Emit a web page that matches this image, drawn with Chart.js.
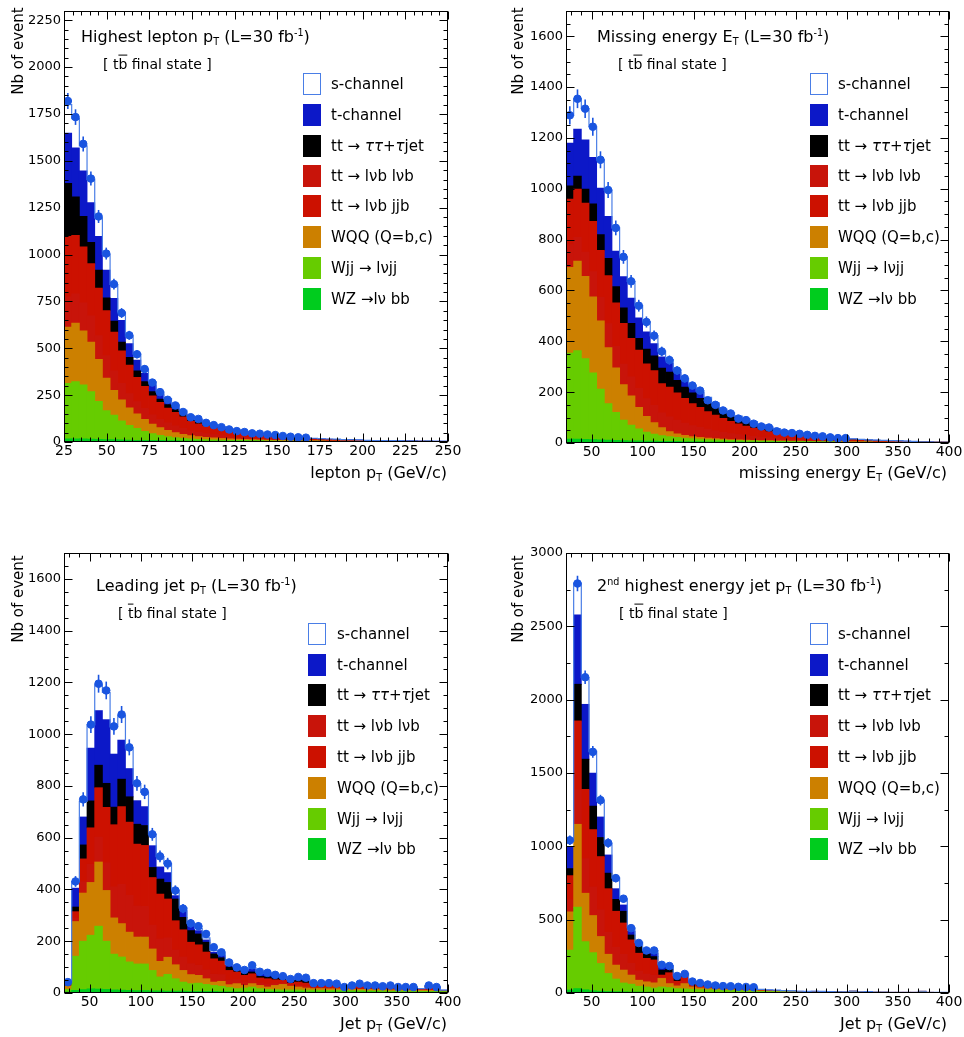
<!DOCTYPE html>
<html>
<head>
<meta charset="utf-8">
<script src="https://cdn.jsdelivr.net/npm/chart.js@4.4.1/dist/chart.umd.min.js"></script>
<style>
html,body{margin:0;padding:0;background:#fff;}
body{width:964px;height:1037px;position:relative;overflow:hidden;font-family:'DejaVu Sans','Liberation Sans',sans-serif;color:#000;}
canvas{position:absolute;}
.t{position:absolute;white-space:nowrap;transform:translateY(-50%);line-height:1.2;}
.title{font-size:16px;}
.fs{font-size:14px;}
.xt{font-size:16px;}
.yt{position:absolute;white-space:nowrap;font-size:15px;transform:translate(-50%,-50%) rotate(-90deg);}
.sub{font-size:60%;position:relative;top:0.3em;}
.sup{font-size:60%;position:relative;top:-0.6em;}
.ov{text-decoration:overline;}
.sw{position:absolute;width:18px;height:22px;box-sizing:border-box;transform:translateY(-50%);}
.lg{position:absolute;white-space:nowrap;font-size:15px;transform:translateY(-50%);}
</style>
</head>
<body>
<canvas id="c1" width="482" height="520" style="left:0;top:0"></canvas>
<canvas id="c2" width="482" height="520" style="left:482px;top:0"></canvas>
<canvas id="c3" width="482" height="517" style="left:0;top:520px"></canvas>
<canvas id="c4" width="482" height="517" style="left:482px;top:520px"></canvas>

<div class="t title" style="left:81px;top:37px">Highest lepton p<span class="sub">T</span> (L=30 fb<span class="sup">-1</span>)</div>
<div class="t fs" style="left:103px;top:64px">[ t<span class="ov">b</span> final state ]</div>
<div class="t title" style="left:597px;top:37px">Missing energy E<span class="sub">T</span> (L=30 fb<span class="sup">-1</span>)</div>
<div class="t fs" style="left:618px;top:64px">[ t<span class="ov">b</span> final state ]</div>
<div class="t title" style="left:96px;top:586px">Leading jet p<span class="sub">T</span> (L=30 fb<span class="sup">-1</span>)</div>
<div class="t fs" style="left:118px;top:613px">[ <span class="ov">t</span>b final state ]</div>
<div class="t title" style="left:597px;top:586px">2<span class="sup">nd</span> highest energy jet p<span class="sub">T</span> (L=30 fb<span class="sup">-1</span>)</div>
<div class="t fs" style="left:619px;top:613px">[ t<span class="ov">b</span> final state ]</div>

<div class="t xt" style="right:517px;top:473px">lepton p<span class="sub">T</span> (GeV/c)</div>
<div class="t xt" style="right:17px;top:473px">missing energy E<span class="sub">T</span> (GeV/c)</div>
<div class="t xt" style="right:517px;top:1024px">Jet p<span class="sub">T</span> (GeV/c)</div>
<div class="t xt" style="right:17px;top:1024px">Jet p<span class="sub">T</span> (GeV/c)</div>

<div class="yt" style="left:17.5px;top:51px">Nb of event</div>
<div class="yt" style="left:517.5px;top:51px">Nb of event</div>
<div class="yt" style="left:17.5px;top:599px">Nb of event</div>
<div class="yt" style="left:517.5px;top:599px">Nb of event</div>

<script>
// ---- values: cumulative heights of each stacked layer, per bin ----
// panel 1: highest lepton pT, 25-250 GeV, 50 bins
const p1_wz   = [17,17,16,15,14,13,12,11,10,9,9,8,8,7,7,6,6,6,5,5,5,5,4,4,4,4,3,3,3,3,3,3,2,2,2,2,2,2,2,1,1,1,1,1,1,1,1,1,1,1];
const p1_wjj  = [313,322,305,269,217,167,143,113,88,72,56,44,35,28,23,19,16,14,12,11,10,9,8,8,7,7,6,6,5,5,5,4,4,4,3,3,3,3,3,2,2,2,2,2,2,2,2,1,1,1];
const p1_wqq  = [613,634,592,533,440,340,275,225,182,150,120,95,76,62,50,41,34,29,25,22,19,17,15,14,12,11,10,9,8,8,7,6,6,5,5,5,4,4,4,4,3,3,3,3,3,2,2,2,2,2];
const p1_dil  = [774,790,742,672,567,460,379,312,258,215,179,145,121,102,86,72,59,51,44,39,34,30,26,24,21,19,17,15,13,12,11,10,9,8,7,7,6,6,5,5,4,4,4,4,3,3,3,3,2,2];
const p1_semi = [1097,1102,1041,951,820,701,586,486,410,345,296,246,211,181,158,134,110,96,83,72,63,55,48,43,38,34,30,27,24,21,19,17,15,13,12,11,10,9,8,7,6,6,5,5,4,4,4,3,3,3];
const p1_tau  = [1379,1308,1203,1065,916,768,644,533,451,379,322,269,229,199,173,146,121,105,91,79,69,60,53,47,42,37,33,30,27,23,21,19,17,15,13,12,11,10,9,8,7,7,6,6,5,5,4,4,3,3];
const p1_tch  = [1648,1569,1446,1277,1097,916,766,648,525,437,366,305,257,224,195,164,135,117,101,88,79,69,61,54,48,43,38,34,31,27,24,22,19,17,15,14,13,12,11,9,8,8,7,7,6,6,5,5,4,4];
const p1_sch  = [1800,1725,1580,1400,1195,1000,840,693,565,470,388,322,267,232,201,169,139,120,104,91,82,72,64,56,50,45,40,36,33,28,25,23,20,18,16,15,13,12,11,9,8,8,7,7,6,6,5,5,4,4];
const p1_data = [1819,1733,1590,1405,1203,1005,842,688,569,468,389,317,266,225,195,160,132,123,102,90,79,67,58,53,46,44,40,37,32,28,25,23];
const p1_xticks = [25,50,75,100,125,150,175,200,225,250];
const p1_yticks = [0,250,500,750,1000,1250,1500,1750,2000,2250];

// panel 2: missing energy ET, 25-400 GeV, 50 bins
const p2_wz   = [15,15,14,13,12,11,10,9,8,8,7,7,6,6,6,5,5,5,4,4,4,4,4,3,3,3,3,3,3,3,3,3,3,3,3,2,2,2,2,2,2,2,2,2,2,2,2,2,2,2];
const p2_wjj  = [353,363,332,276,212,155,120,90,70,55,43,35,29,25,22,19,17,15,13,12,11,10,9,8,8,7,7,6,6,5,5,5,4,4,4,3,3,3,3,3,2,2,2,2,2,2,2,2,2,2];
const p2_wqq  = [691,715,655,575,480,375,295,230,185,140,105,80,60,45,36,30,25,22,19,17,15,13,12,11,10,9,9,8,8,7,7,6,6,5,5,5,4,4,4,4,3,3,3,3,3,3,3,3,3,3];
const p2_dil  = [780,809,751,674,573,469,380,310,260,215,174,148,118,103,90,78,68,61,54,48,42,37,33,29,26,23,21,19,17,15,14,12,11,10,9,8,7,7,6,6,5,4,4,4,4,4,3,3,3,3];
const p2_semi = [959,998,943,872,758,658,551,470,411,365,311,285,233,220,197,175,155,140,123,110,97,85,75,66,58,51,45,40,35,31,27,24,21,19,17,15,13,12,10,9,8,7,6,6,5,5,4,4,4,4];
const p2_tau  = [1011,1050,998,940,820,726,615,531,470,411,369,343,294,279,246,220,197,175,155,140,117,104,92,82,72,63,56,49,43,38,33,29,26,23,20,18,16,14,12,11,10,9,8,7,6,6,5,4,4,4];
const p2_tch  = [1179,1234,1192,1123,1002,891,755,654,570,492,437,391,339,313,279,245,222,199,176,155,130,117,104,93,82,71,63,55,48,43,38,33,29,26,23,20,18,16,14,12,11,10,9,8,7,6,5,5,4,4];
const p2_sch  = [1289,1354,1315,1244,1114,995,846,732,636,540,477,421,361,328,289,253,228,204,180,158,133,119,106,95,84,72,64,56,49,44,39,34,30,27,24,20,18,16,14,12,11,10,9,8,7,6,5,5,4,4];
const p2_data = [1289,1354,1315,1244,1114,995,846,732,636,540,476,422,360,326,285,254,226,206,168,150,128,116,96,90,76,65,61,46,41,39,36,32,28,26,22,19,19];
const p2_xticks = [50,100,150,200,250,300,350,400];
const p2_yticks = [0,200,400,600,800,1000,1200,1400,1600];

// panel 3: leading jet pT, 25-400 GeV, 50 bins
const p3_wz   = [4,10,13,16,15,14,12,11,10,9,9,8,8,7,7,7,6,6,6,6,5,5,5,5,5,5,5,5,5,5,5,4,4,4,4,4,4,4,4,4,4,3,3,3,3,3,3,3,3,3];
const p3_wjj  = [14,142,200,223,258,200,150,139,120,112,112,87,62,72,55,42,36,38,33,29,26,21,17,19,23,17,14,13,12,12,12,11,11,10,10,10,9,9,9,8,8,8,7,7,7,6,6,6,6,5];
const p3_wqq  = [26,276,386,427,506,396,290,268,235,216,216,170,122,138,109,87,71,68,55,42,45,32,36,29,36,29,23,29,33,26,23,19,17,17,16,16,15,15,14,14,13,13,12,12,11,11,10,10,9,7];
const p3_dil  = [28,289,430,497,602,503,410,419,377,336,334,262,209,213,166,139,113,107,89,72,71,50,51,42,49,39,34,36,38,30,29,25,21,20,20,20,17,18,18,17,17,16,16,15,14,14,12,15,13,8];
const p3_semi = [32,314,518,638,793,717,650,720,660,575,570,446,382,363,279,244,196,186,158,132,123,87,81,68,74,58,55,51,49,38,42,38,29,26,28,27,20,24,27,24,24,22,24,20,20,20,15,24,20,9];
const p3_tau  = [34,332,572,742,880,810,718,826,758,652,647,485,440,427,363,292,241,228,196,151,136,100,94,81,81,64,62,58,53,42,49,45,32,31,32,30,21,26,30,26,26,24,26,21,21,21,16,26,21,10];
const p3_tch  = [40,405,680,946,1091,1056,923,977,867,743,720,569,487,465,376,318,260,241,205,158,145,106,100,87,94,77,74,68,62,51,55,53,38,36,36,33,23,27,32,28,28,26,28,23,23,23,17,28,23,11];
const p3_sch  = [42,430,740,1036,1191,1161,1028,1072,947,808,775,614,527,500,398,330,270,250,213,165,151,111,104,90,97,80,76,70,64,53,57,55,39,37,37,34,24,28,33,29,28,26,28,23,23,23,17,28,23,11];
const p3_data = [42,431,748,1037,1195,1169,1030,1076,949,810,777,613,528,500,396,326,269,258,228,177,157,118,99,89,107,82,78,70,65,54,62,59,38,38,38,36,23,29,36,29,29,26,29,23,23,23,null,29,23];
const p3_xticks = [50,100,150,200,250,300,350,400];
const p3_yticks = [0,200,400,600,800,1000,1200,1400,1600];

// panel 4: 2nd highest energy jet pT, 25-400 GeV, 50 bins
const p4_wz   = [20,30,22,15,12,10,9,8,7,7,6,6,5,5,5,5,4,4,4,4,4,4,3,3,3,3,3,3,3,2,2,2,2,2,2,2,2,2,2,2,2,2,2,2,2,2,2,2,2,2];
const p4_wjj  = [292,585,350,275,201,133,95,68,60,46,41,34,41,37,30,28,25,23,21,20,18,17,16,14,13,11,10,9,8,7,6,6,5,5,5,4,4,4,4,4,3,3,3,3,3,3,3,3,3,3];
const p4_wqq  = [553,1150,680,528,385,264,190,156,122,87,76,69,99,64,48,64,41,34,30,27,25,23,21,18,17,14,12,11,10,9,8,7,6,6,6,5,6,12,6,8,5,5,4,4,4,4,11,4,4,4];
const p4_dil  = [635,1385,916,723,567,413,312,263,202,148,129,121,107,89,59,78,46,38,34,30,28,26,24,21,19,16,14,12,11,10,9,8,7,7,6,5,6,12,6,8,5,5,4,4,4,4,11,4,4,4];
const p4_semi = [800,1855,1388,1114,930,711,557,477,362,271,236,225,122,138,80,106,57,46,41,35,33,31,29,26,24,19,17,15,13,11,10,9,9,8,7,6,7,13,7,9,6,6,5,5,5,5,12,5,4,4];
const p4_tau  = [848,2105,1594,1274,1060,817,638,557,395,317,265,248,156,161,99,115,64,52,46,39,36,34,32,29,27,21,18,16,14,12,11,10,10,9,8,7,7,13,7,9,6,6,5,5,5,5,12,5,4,4];
const p4_tch  = [997,2578,1968,1499,1200,941,711,600,420,335,280,270,182,178,112,125,72,62,54,47,44,42,39,36,33,24,20,18,15,13,12,11,12,11,9,7,7,13,7,9,6,6,5,5,5,5,12,5,4,4];
const p4_sch  = [1035,2795,2150,1648,1310,1020,785,640,445,345,290,288,196,186,118,130,76,66,57,50,47,45,41,38,35,25,21,19,16,14,12,11,12,11,9,7,7,13,7,9,6,6,5,5,5,5,12,5,4,4];
const p4_data = [1041,2792,2153,1644,1315,1023,783,643,442,341,290,290,192,184,116,130,78,68,58,51,47,46,42,41,39];
const p4_xticks = [50,100,150,200,250,300,350,400];
const p4_yticks = [0,500,1000,1500,2000,2500,3000];

// layers, bottom -> top of the stack
const LAYERS = [
  {key:'wz',   color:'#00cc1e', html:'WZ&nbsp;&rarr;l&nu; bb'},
  {key:'wjj',  color:'#66cc00', html:'Wjj&nbsp;&rarr; l&nu;jj'},
  {key:'wqq',  color:'#cc8000', html:'WQQ (Q=b,c)'},
  {key:'dil',  color:'#c8140a', html:'tt&nbsp;&rarr; l&nu;b l&nu;b'},
  {key:'semi', color:'#cc1100', html:'tt&nbsp;&rarr; l&nu;b jjb'},
  {key:'tau',  color:'#000000', html:'tt&nbsp;&rarr; <i>&tau;&tau;</i>+<i>&tau;</i>jet'},
  {key:'tch',  color:'#0c18c8', html:'t-channel'},
  {key:'sch',  color:'#ffffff', html:'s-channel'}
];
const LEGEND_ORDER = ['sch','tch','tau','dil','semi','wqq','wjj','wz'];
const PT_COLOR = '#1a55e0';
const OUTLINE  = '#4a7ee6';
const TICK_FONT_Y = {family:"'DejaVu Sans','Liberation Sans',sans-serif", size:13};
const TICK_FONT_X = {family:"'DejaVu Sans','Liberation Sans',sans-serif", size:14};
const XH = 40; // height kept for x tick labels

const PANELS = [
  {id:'c1', w:482, h:520, area:{l:64, t:5,  r:448, b:442},
   xmin:25, xmax:250, xstep:25, xminor:5, ymax:2300, ystep:250, yminor:50,
   xticks:p1_xticks, yticks:p1_yticks,
   tops:[p1_wz,p1_wjj,p1_wqq,p1_dil,p1_semi,p1_tau,p1_tch,p1_sch], data:p1_data,
   legend:{sx:303, tx:331, rows:[84,115,146,176,206,237,268,299]}},
  {id:'c2', w:482, h:520, area:{l:84, t:5,  r:467, b:443},
   xmin:25, xmax:400, xstep:50, xminor:10, ymax:1700, ystep:200, yminor:50,
   xticks:p2_xticks, yticks:p2_yticks,
   tops:[p2_wz,p2_wjj,p2_wqq,p2_dil,p2_semi,p2_tau,p2_tch,p2_sch], data:p2_data,
   legend:{sx:810, tx:838, rows:[84,115,146,176,206,237,268,299]}},
  {id:'c3', w:482, h:517, area:{l:64, t:33, r:448, b:473},
   xmin:25, xmax:400, xstep:50, xminor:10, ymax:1700, ystep:200, yminor:50,
   xticks:p3_xticks, yticks:p3_yticks,
   tops:[p3_wz,p3_wjj,p3_wqq,p3_dil,p3_semi,p3_tau,p3_tch,p3_sch], data:p3_data,
   legend:{sx:308, tx:337, rows:[634,665,695,726,757,788,819,849]}},
  {id:'c4', w:482, h:517, area:{l:84, t:33, r:467, b:473},
   xmin:25, xmax:400, xstep:50, xminor:10, ymax:3000, ystep:500, yminor:250,
   xticks:p4_xticks, yticks:p4_yticks,
   tops:[p4_wz,p4_wjj,p4_wqq,p4_dil,p4_semi,p4_tau,p4_tch,p4_sch], data:p4_data,
   legend:{sx:810, tx:838, rows:[634,665,695,726,757,788,819,849]}}
];

function binCenters(lo, hi, n){
  const w = (hi - lo) / n;
  return Array.from({length:n}, (_, i) => lo + w * (i + 0.5));
}

// frame, inward ticks on all four sides, and sqrt(N) error bars on the data points
const axisFrame = {
  id:'axisFrame',
  afterDatasetsDraw(chart){
    const o = chart.options.plugins.axisFrame;
    const {ctx, chartArea:a} = chart;
    const xs = chart.scales.x, ys = chart.scales.y;
    const line = (x1,y1,x2,y2)=>{ ctx.beginPath(); ctx.moveTo(x1,y1); ctx.lineTo(x2,y2); ctx.stroke(); };
    ctx.save();
    const pts = chart.data.datasets[0].data;
    ctx.strokeStyle = PT_COLOR; ctx.lineWidth = 1.6;
    pts.forEach(d=>{
      if(d.y == null) return;
      const e = Math.sqrt(d.y), px = xs.getPixelForValue(d.x);
      line(px, ys.getPixelForValue(d.y - e), px, ys.getPixelForValue(d.y + e));
    });
    ctx.strokeStyle = '#000'; ctx.lineWidth = 1;
    const L = Math.round(a.left) + 0.5, R = Math.round(a.right) - 0.5;
    const T = Math.round(a.top) + 0.5, B = Math.round(a.bottom) - 0.5;
    ctx.strokeRect(L, T, R - L, B - T);
    const major = (v, s) => Math.abs(v / s - Math.round(v / s)) < 1e-6;
    for(let v = 0; v <= ys.max + 1e-6; v += o.yminor){
      const py = Math.round(ys.getPixelForValue(v)) + 0.5;
      const len = major(v, o.ystep) ? 8 : 4;
      line(L, py, L + len, py); line(R, py, R - len, py);
    }
    for(let v = Math.ceil(xs.min / o.xminor) * o.xminor; v <= xs.max + 1e-6; v += o.xminor){
      const px = Math.round(xs.getPixelForValue(v)) + 0.5;
      const len = major(v, o.xstep) ? 8 : 4;
      line(px, B, px, B - len); line(px, T, px, T + len);
    }
    ctx.restore();
  }
};

function buildPanel(p){
  const xs = binCenters(p.xmin, p.xmax, p.tops[0].length);
  const datasets = [];
  datasets.push({type:'scatter', label:'data',
    data: p.data.map((v,i)=>({x:xs[i], y:v})).filter(d=>d.y != null),
    backgroundColor:PT_COLOR, borderColor:PT_COLOR, pointRadius:3.8, pointHoverRadius:3.8, order:1});
  const total = p.tops[p.tops.length - 1];
  const outline = [{x:p.xmin, y:total[0]}].concat(xs.map((x,i)=>({x, y:total[i]}))).concat([{x:p.xmax, y:total[total.length-1]}]);
  datasets.push({type:'line', label:'total', data:outline, stepped:'middle', borderColor:OUTLINE,
    borderWidth:1.2, pointRadius:0, fill:false, order:2});
  p.tops.forEach((top, k)=>{
    const below = k ? p.tops[k-1] : null;
    datasets.push({type:'bar', label:LAYERS[k].key, backgroundColor:LAYERS[k].color,
      grouped:false, barPercentage:1, categoryPercentage:1, inflateAmount:0.4, borderWidth:0, order:3,
      data: xs.map((x,i)=>({x, y:[below ? below[i] : 0, top[i]]})).filter(d=>d.y[1] > d.y[0])});
  });

  new Chart(document.getElementById(p.id), {
    type:'bar',
    data:{datasets},
    plugins:[axisFrame],
    options:{
      responsive:false, animation:false, devicePixelRatio:1, events:[],
      layout:{padding:{left:0, top:p.area.t, right:p.w - p.area.r, bottom:p.h - p.area.b - XH}},
      plugins:{legend:{display:false}, tooltip:{enabled:false},
        axisFrame:{xstep:p.xstep, xminor:p.xminor, ystep:p.ystep, yminor:p.yminor}},
      scales:{
        x:{type:'linear', min:p.xmin, max:p.xmax, offset:false,
           grid:{display:false, drawTicks:false}, border:{display:false},
           ticks:{autoSkip:false, maxRotation:0, padding:1, font:TICK_FONT_X, color:'#000', callback:v=>String(v)},
           afterBuildTicks:s=>{ s.ticks = p.xticks.map(v=>({value:v})); },
           afterFit:s=>{ s.height = XH; }},
        y:{type:'linear', min:0, max:p.ymax,
           grid:{display:false, drawTicks:false}, border:{display:false},
           ticks:{autoSkip:false, padding:3, font:TICK_FONT_Y, color:'#000', callback:v=>String(v)},
           afterBuildTicks:s=>{ s.ticks = p.yticks.map(v=>({value:v})); },
           afterFit:s=>{ s.width = p.area.l; }}
      }
    }
  });

  // legend, in the order of the picture
  const lg = p.legend;
  LEGEND_ORDER.forEach((key, r)=>{
    const layer = LAYERS.find(l=>l.key === key);
    const sw = document.createElement('div');
    sw.className = 'sw';
    sw.style.left = lg.sx + 'px'; sw.style.top = lg.rows[r] + 'px';
    sw.style.background = layer.color;
    if(key === 'sch') sw.style.border = '1.5px solid ' + OUTLINE;
    document.body.appendChild(sw);
    const tx = document.createElement('div');
    tx.className = 'lg';
    tx.style.left = lg.tx + 'px'; tx.style.top = lg.rows[r] + 'px';
    tx.innerHTML = layer.html;
    document.body.appendChild(tx);
  });
}

PANELS.forEach(buildPanel);
</script>
</body>
</html>
